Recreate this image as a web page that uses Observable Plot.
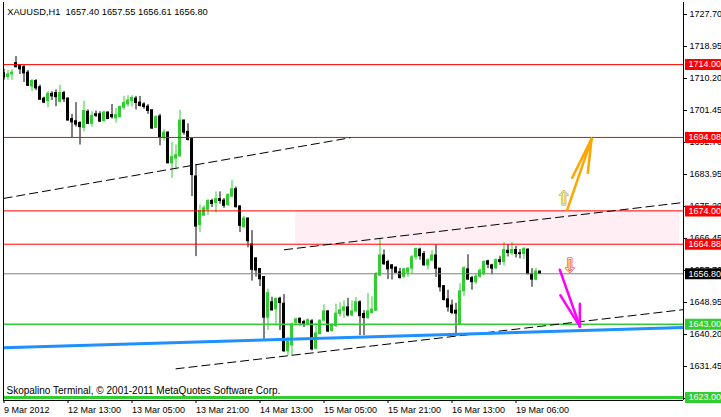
<!DOCTYPE html>
<html><head><meta charset="utf-8">
<script src="https://cdn.jsdelivr.net/npm/d3@7"></script>
<script src="https://cdn.jsdelivr.net/npm/@observablehq/plot@0.6"></script>
<style>
html,body{margin:0;padding:0;background:#fff}
svg{display:block}
svg text{white-space:pre}
</style>
</head><body><div id="chart"></div>
<script>
// ---- data ----
const symbol = "XAUUSD", timeframe = "H1";
const open  = [1711.6,1710.6,1711.3,1714.4,1713.7,1713.3,1711.8,1708.0,1709.5,1707.8,1704.7,1704.0,1706.0,1706.2,1703.8,1706.2,1704.7,1699.1,1698.5,1698.0,1696.7,1701.1,1697.8,1700.4,1700.4,1698.5,1700.9,1700.2,1699.3,1699.6,1702.2,1703.1,1704.0,1704.7,1703.6,1703.1,1702.5,1701.5,1696.7,1699.8,1694.0,1695.4,1687.0,1688.3,1688.9,1698.7,1695.6,1693.6,1683.4,1670.1,1672.7,1674.3,1676.7,1676.1,1677.2,1676.8,1675.6,1677.9,1679.9,1675.2,1669.5,1671.9,1664.8,1661.0,1658.1,1655.9,1644.8,1649.0,1647.1,1650.0,1648.6,1635.6,1637.2,1643.4,1644.5,1643.6,1643.0,1643.8,1636.3,1640.3,1644.0,1646.5,1641.2,1642.5,1645.8,1646.7,1647.6,1645.4,1646.5,1649.0,1645.8,1644.7,1646.1,1646.7,1656.3,1661.8,1660.0,1659.1,1658.5,1657.2,1656.0,1657.1,1658.2,1661.3,1663.4,1662.2,1659.1,1660.4,1661.8,1658.2,1653.4,1649.8,1648.1,1646.7,1643.0,1652.0,1658.0,1655.6,1654.5,1656.0,1656.7,1660.2,1659.1,1658.3,1660.5,1660.0,1663.1,1662.4,1663.3,1662.4,1662.2,1663.4,1656.7,1655.2,1657.40];
const high  = [1712.7,1712.4,1712.6,1716.2,1714.0,1713.8,1712.4,1709.9,1709.9,1708.4,1705.1,1706.6,1706.6,1707.1,1708.4,1706.7,1704.9,1700.4,1703.6,1698.4,1704.0,1701.6,1701.1,1701.3,1701.1,1701.3,1701.0,1703.1,1702.0,1702.7,1705.3,1705.5,1705.5,1705.3,1705.3,1703.6,1703.1,1701.6,1700.0,1700.4,1696.2,1695.6,1692.7,1692.0,1701.5,1698.8,1697.8,1693.8,1686.7,1675.6,1675.4,1677.1,1677.2,1679.2,1679.2,1677.4,1678.7,1682.3,1680.5,1675.4,1672.5,1672.1,1668.6,1661.2,1658.2,1655.9,1652.6,1650.4,1650.2,1650.4,1651.1,1639.5,1643.4,1644.7,1644.7,1644.1,1644.5,1644.3,1643.2,1644.1,1648.3,1646.7,1643.2,1648.5,1648.9,1649.4,1650.1,1649.4,1650.3,1649.4,1646.7,1651.4,1650.5,1657.2,1666.5,1663.3,1660.5,1659.3,1658.6,1658.3,1658.3,1658.5,1661.8,1663.8,1663.8,1662.9,1660.9,1663.1,1664.7,1658.3,1653.6,1652.3,1649.6,1648.7,1654.1,1658.7,1662.0,1656.1,1656.7,1658.2,1660.4,1660.5,1659.4,1660.9,1661.6,1665.3,1664.7,1665.3,1664.3,1663.4,1664.0,1663.6,1658.2,1658.3,1657.55];
const low   = [1709.7,1709.7,1709.7,1713.1,1711.3,1709.1,1708.0,1706.6,1706.9,1704.2,1703.3,1702.2,1704.2,1702.5,1703.5,1703.6,1698.6,1694.0,1696.9,1692.0,1695.6,1697.6,1696.9,1699.5,1698.2,1698.4,1699.0,1699.1,1698.0,1699.5,1701.5,1702.4,1702.4,1701.6,1702.4,1701.8,1700.4,1696.3,1696.5,1691.8,1693.1,1686.9,1682.9,1685.2,1688.7,1694.7,1693.1,1677.9,1661.5,1668.1,1672.5,1672.8,1674.9,1673.4,1675.8,1674.7,1675.2,1677.7,1674.8,1668.1,1669.4,1663.9,1654.8,1655.9,1653.3,1638.9,1641.3,1646.6,1642.4,1641.3,1635.3,1634.5,1634.3,1642.7,1642.5,1642.1,1642.7,1635.7,1636.1,1640.1,1643.6,1640.7,1640.8,1642.1,1645.0,1644.7,1645.0,1645.0,1646.1,1639.9,1639.9,1644.3,1645.8,1646.5,1656.0,1659.1,1655.2,1655.1,1657.0,1655.4,1655.6,1655.8,1656.7,1660.5,1660.5,1658.9,1657.8,1660.2,1655.8,1651.8,1649.4,1646.3,1645.6,1639.7,1642.7,1650.5,1655.1,1652.3,1653.8,1655.6,1656.3,1658.2,1656.5,1658.0,1659.1,1658.9,1661.4,1661.8,1661.1,1660.9,1660.7,1656.5,1653.1,1654.9,1656.61];
const close = [1710.5,1711.3,1711.8,1713.3,1712.7,1711.6,1708.2,1709.5,1707.5,1704.4,1703.6,1706.0,1705.3,1705.1,1706.2,1704.5,1698.7,1698.2,1697.6,1696.9,1701.3,1697.8,1700.0,1700.0,1698.4,1700.9,1699.1,1699.6,1700.2,1702.4,1703.5,1704.2,1704.9,1703.5,1702.7,1702.4,1701.3,1696.5,1699.6,1694.2,1695.4,1687.0,1688.7,1689.2,1698.7,1695.4,1693.4,1683.8,1669.7,1673.9,1674.7,1676.7,1675.9,1677.2,1676.7,1675.4,1678.3,1679.9,1675.0,1669.9,1671.9,1665.7,1657.9,1657.7,1655.3,1644.8,1651.5,1646.8,1649.9,1648.8,1635.6,1638.2,1642.9,1644.3,1643.4,1643.0,1644.1,1636.1,1640.5,1644.0,1646.5,1641.0,1642.7,1645.9,1646.8,1647.6,1645.4,1646.5,1649.0,1645.2,1644.7,1646.5,1647.0,1656.7,1661.8,1659.4,1658.0,1658.2,1657.1,1655.6,1658.0,1658.2,1661.3,1663.6,1661.6,1659.1,1660.5,1661.8,1658.2,1653.1,1649.6,1647.6,1646.1,1645.9,1652.0,1658.3,1655.2,1654.5,1656.0,1657.6,1660.0,1659.3,1658.2,1660.5,1660.0,1663.3,1662.5,1663.3,1662.2,1662.2,1663.6,1656.7,1655.2,1657.4,1656.80];

// time axis
const timeTickIndex = [0,16,32,48,64,80,96,112,128];
const timeTickText = ["9 Mar 2012","12 Mar 13:00","13 Mar 05:00","13 Mar 21:00","14 Mar 13:00","15 Mar 05:00","15 Mar 21:00","16 Mar 13:00","19 Mar 06:00"];
// price axis
const priceTicks = [1727.70,1718.95,1710.20,1701.45,1692.70,1683.95,1675.20,1666.45,1657.70,1648.95,1640.20,1631.45,1622.70];
const priceDomain = [1622.15, 1730.98];
const indexDomain = [-0.125, 169.875];

// horizontal levels
const redLevels = [1714.00, 1694.08, 1674.00, 1664.88];
const bidLevel = [1656.80];
const greenLevels = [1643.00];
const greenThickLevels = [1623.00];
// rectangle zone (index1, index2, price1, price2)
const zone = [{i1: 72.9, i2: 168.9, p1: 1664.88, p2: 1674.00}];
// dashed trend lines
const trendLines = [
  {i1: -0.125, p1: 1677.4, i2: 86.6, p2: 1694.0},
  {i1: 70.0, p1: 1663.36, i2: 169.875, p2: 1676.3},
  {i1: 42.9, p1: 1630.8, i2: 169.875, p2: 1647.0}
];
const blueLine = [{i1: -0.125, p1: 1636.56, i2: 169.875, p2: 1642.1}];
// arrows: segments from tip
const orangeArrow = [
  {i1: 146.9, p1: 1693.7, i2: 140.8, p2: 1674.3},
  {i1: 146.9, p1: 1693.7, i2: 142.05, p2: 1683.05},
  {i1: 146.9, p1: 1693.7, i2: 145.95, p2: 1684.4}
];
const magentaArrow = [
  {i1: 143.95, p1: 1642.4, i2: 138.95, p2: 1657.9},
  {i1: 143.95, p1: 1642.4, i2: 139.1, p2: 1650.9},
  {i1: 143.95, p1: 1642.4, i2: 143.95, p2: 1648.6}
];
const upSign = [{i: 139.95, p: 1677.4}];
const downSign = [{i: 141.4, p: 1658.9}];
const copyright = "Skopalino Terminal, \u00A9 2001-2011 MetaQuotes Software Corp.";

// ---- build ----
const n = open.length;
const candles = d3.range(n).map(i => ({i, o: open[i], h: high[i], l: low[i], c: close[i]}));
const up = candles.filter(d => d.c >= d.o);
const dn = candles.filter(d => d.c < d.o);
const GREEN = "#32CD32";
const title = `${symbol},${timeframe}  ${open[n-1].toFixed(2)} ${high[n-1].toFixed(2)} ${low[n-1].toFixed(2)} ${close[n-1].toFixed(2)}`;

const bodyOpts = (color) => ({
  x1: d => d.i - 0.25, x2: d => d.i + 0.25,
  y1: d => Math.min(d.o, d.c), y2: d => Math.max(d.o, d.c),
  fill: color, stroke: color, strokeWidth: 1, clip: true
});
const linkOpts = {x1: "i1", y1: "p1", x2: "i2", y2: "p2"};
const boxLabel = (levels, color) => [
  Plot.ruleY(levels, {stroke: color, strokeWidth: 11, insetLeft: 682, insetRight: -38}),
  Plot.text(levels, {y: d => d, text: d => d.toFixed(2), frameAnchor: "right", dx: 5, textAnchor: "start", fill: "white", fontSize: 9})
];

const chart = Plot.plot({
  width: 721, height: 417,
  marginLeft: 3, marginRight: 38, marginTop: 2, marginBottom: 17,
  x: {domain: indexDomain},
  y: {domain: priceDomain},
  style: {fontFamily: "'Liberation Sans', Arial, sans-serif", fontSize: "9px", background: "white", color: "black", overflow: "visible"},
  marks: [
    Plot.rect(zone, {x1: "i1", x2: "i2", y1: "p1", y2: "p2", fill: "#FFEEF3"}),
    Plot.ruleX(up, {x: "i", y1: "l", y2: "h", stroke: GREEN, clip: true}),
    Plot.ruleX(dn, {x: "i", y1: "l", y2: "h", stroke: "black", clip: true}),
    Plot.rect(up, bodyOpts(GREEN)),
    Plot.rect(dn, bodyOpts("black")),
    Plot.ruleY(redLevels, {stroke: "red", strokeWidth: 1}),
    Plot.ruleY(bidLevel, {stroke: "#808080", strokeWidth: 1}),
    Plot.ruleY(greenLevels, {stroke: GREEN, strokeWidth: 1.5}),
    Plot.ruleY(greenThickLevels, {stroke: GREEN, strokeWidth: 3}),
    Plot.link(trendLines, {...linkOpts, stroke: "black", strokeWidth: 1, strokeDasharray: "9,4", clip: true}),
    Plot.link(blueLine, {...linkOpts, stroke: "#1E90FF", strokeWidth: 3, clip: true}),
    Plot.link(orangeArrow, {...linkOpts, stroke: "#FFA500", strokeWidth: 2.5, strokeLinecap: "round"}),
    Plot.link(magentaArrow, {...linkOpts, stroke: "#FF00FF", strokeWidth: 2.5, strokeLinecap: "round"}),
    Plot.text(upSign, {x: "i", y: "p", text: () => "\u21E7", fill: "#C8F0D8", stroke: "#F0A000", strokeWidth: 1, fontSize: 19, fontFamily: "DejaVu Sans"}),
    Plot.text(downSign, {x: "i", y: "p", text: () => "\u21E9", fill: "#FFE8E0", stroke: "#FF2000", strokeWidth: 1, fontSize: 19, fontFamily: "DejaVu Sans"}),
    Plot.ruleX([indexDomain[0]], {stroke: "black"}),
    Plot.ruleX([indexDomain[1]], {stroke: "black"}),
    Plot.ruleY([priceDomain[0]], {stroke: "black"}),
    Plot.axisY({ticks: priceTicks, anchor: "right", tickSize: 3, tickPadding: 3, tickFormat: d => d.toFixed(2), label: null, fontSize: 9}),
    Plot.axisX({ticks: timeTickIndex, anchor: "bottom", tickSize: 3, tickPadding: 3, textAnchor: "start", tickFormat: i => timeTickText[timeTickIndex.indexOf(i)], label: null, fontSize: 9}),
    ...boxLabel(redLevels, "red"),
    ...boxLabel(bidLevel, "black"),
    ...boxLabel(greenLevels, GREEN),
    ...boxLabel(greenThickLevels, GREEN),
    Plot.text([title], {frameAnchor: "top-left", text: d => d, dx: 3.7, dy: 5.5, textAnchor: "start", lineAnchor: "top", fontSize: 9.3}),
    Plot.text([copyright], {frameAnchor: "bottom-left", text: d => d, dx: 3, dy: -9.3, textAnchor: "start", lineAnchor: "middle", fontSize: 10})
  ]
});
document.getElementById("chart").appendChild(chart);
</script>
</body></html>
